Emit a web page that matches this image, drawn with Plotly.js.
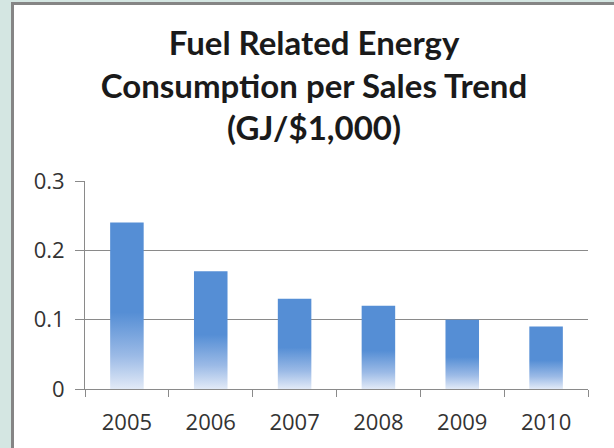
<!DOCTYPE html>
<html><head><meta charset="utf-8">
<script src="https://cdn.plot.ly/plotly-3.0.1.min.js"></script>
<style>
html,body{margin:0;padding:0;width:614px;height:448px;overflow:hidden;background:#d4e6e2;}
#frame{position:absolute;left:11px;top:2px;width:603px;height:446px;border-left:3px solid #858585;border-top:3px solid #858585;background:#fff;box-sizing:border-box;}
#chart{position:absolute;left:0;top:0;width:600px;height:443px;}
</style></head><body>
<div id="frame"><div id="chart"></div></div>
<script>
const years = ['2005', '2006', '2007', '2008', '2009', '2010'];
const values = [0.24, 0.17, 0.13, 0.12, 0.10, 0.09];
const yTickVals = [0, 0.1, 0.2, 0.3];
const yTickText = ['0', '0.1', '0.2', '0.3'];
const titleLines = ['Fuel Related Energy', 'Consumption per Sales Trend', '(GJ/$1,000)'];

const barColor = '#558ED5';
const fadeColor = '#E2EAF7';

const trace = {
  type: 'bar',
  x: years,
  y: values,
  marker: {color: barColor, line: {width: 0}},
  hoverinfo: 'x+y'
};

const layout = {
  width: 600, height: 443,
  margin: {l: 71, r: 26, t: 176, b: 59, pad: 0},
  paper_bgcolor: '#ffffff',
  plot_bgcolor: '#ffffff',
  bargap: 0.6,
  showlegend: false,
  title: {
    text: titleLines.join('<br>'),
    font: {family: 'Lato, "Open Sans", sans-serif', size: 33, color: '#1a1a1a', weight: 'bold'},
    x: 0.5, xanchor: 'center', xref: 'container',
    y: 0.888, yanchor: 'top', yref: 'container'
  },
  xaxis: {
    type: 'category',
    showgrid: false,
    showline: true, linecolor: '#8a8a8a', linewidth: 1,
    ticks: 'outside', tickson: 'boundaries', ticklen: 7, tickcolor: '#8a8a8a', tickwidth: 1,
    tickfont: {family: '"Open Sans", sans-serif', size: 22, color: '#333333'},
    ticklabelstandoff: 14,
    fixedrange: true
  },
  yaxis: {
    range: [0, 0.3],
    tickvals: yTickVals, ticktext: yTickText,
    showgrid: true, gridcolor: '#8a8a8a', gridwidth: 1,
    showline: true, linecolor: '#8a8a8a', linewidth: 1,
    zeroline: false,
    ticks: 'outside', ticklen: 9, tickcolor: '#8a8a8a', tickwidth: 1,
    tickfont: {family: '"Open Sans", sans-serif', size: 22, color: '#333333'},
    ticklabelstandoff: 6,
    fixedrange: true
  }
};

Plotly.newPlot('chart', [trace], layout, {displayModeBar: false, staticPlot: true}).then(gd => {
  const svgNS = 'http://www.w3.org/2000/svg';
  const svg = gd.querySelector('.main-svg');
  let defs = svg.querySelector('defs');
  if (!defs) { defs = document.createElementNS(svgNS, 'defs'); svg.insertBefore(defs, svg.firstChild); }
  const grad = document.createElementNS(svgNS, 'linearGradient');
  grad.setAttribute('id', 'barGrad');
  grad.setAttribute('x1', '0'); grad.setAttribute('y1', '0');
  grad.setAttribute('x2', '0'); grad.setAttribute('y2', '1');
  [[0, barColor], [0.54, barColor], [0.8, '#9BBAE6'], [1, fadeColor]].forEach(([o, c]) => {
    const s = document.createElementNS(svgNS, 'stop');
    s.setAttribute('offset', o);
    s.setAttribute('stop-color', c);
    grad.appendChild(s);
  });
  defs.appendChild(grad);
  gd.querySelectorAll('.bars .point path').forEach(p => { p.style.fill = 'url(#barGrad)'; });
});
</script>
</body></html>
